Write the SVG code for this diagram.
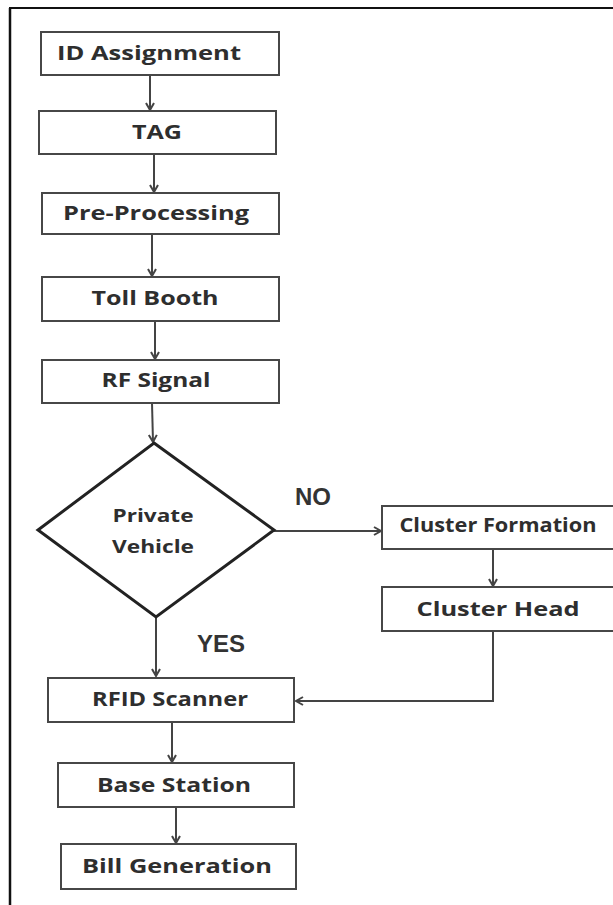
<svg xmlns="http://www.w3.org/2000/svg" width="613" height="905" viewBox="0 0 613 905">
<style>
.box{fill:#fff;stroke:#474747;stroke-width:2}
.dia{fill:#fff;stroke:#222;stroke-width:3}
.lbl{font-family:"Open Sans","Liberation Sans",sans-serif;font-weight:bold;font-size:19px;fill:#2e2e2e;text-anchor:middle}
.sm{font-size:18px}
.big{font-family:"Liberation Sans",Arial,sans-serif;font-weight:bold;font-size:24px;fill:#333}
.con{fill:none;stroke:#444;stroke-width:2}
</style>
<defs>
<marker id="arr" markerWidth="12" markerHeight="12" refX="10" refY="6" orient="auto" markerUnits="userSpaceOnUse">
<path d="M3,2 L10,6 L3,10" fill="none" stroke="#444" stroke-width="2"/>
</marker>
</defs>
<rect width="613" height="905" fill="#fff"/>
<g id="frame">
<line x1="9" y1="8" x2="613" y2="8" stroke="#111" stroke-width="2"/>
<line x1="10" y1="8" x2="10" y2="905" stroke="#111" stroke-width="2.5"/>
</g>
<g id="connectors">
<line class="con" x1="150" y1="75" x2="150" y2="110" marker-end="url(#arr)"/>
<line class="con" x1="154" y1="154" x2="154" y2="192" marker-end="url(#arr)"/>
<line class="con" x1="152" y1="234" x2="152" y2="276" marker-end="url(#arr)"/>
<line class="con" x1="155" y1="321" x2="155" y2="359" marker-end="url(#arr)"/>
<line class="con" x1="152" y1="403" x2="153" y2="442" marker-end="url(#arr)"/>
<line class="con" x1="156" y1="617" x2="156" y2="676" marker-end="url(#arr)"/>
<line class="con" x1="274" y1="531" x2="381" y2="531" marker-end="url(#arr)"/>
<line class="con" x1="493" y1="549" x2="493" y2="586" marker-end="url(#arr)"/>
<polyline class="con" points="493,631 493,701 296,701" marker-end="url(#arr)"/>
<line class="con" x1="172" y1="722" x2="172" y2="762" marker-end="url(#arr)"/>
<line class="con" x1="176" y1="807" x2="176" y2="843" marker-end="url(#arr)"/>
</g>
<g id="id-assignment">
<rect class="box" x="41" y="32" width="238" height="43"/>
<text class="lbl" x="149" y="60" textLength="184" lengthAdjust="spacingAndGlyphs">ID Assignment</text>
</g>
<g id="tag">
<rect class="box" x="39" y="111" width="237" height="43"/>
<text class="lbl" x="157" y="139" textLength="50" lengthAdjust="spacingAndGlyphs">TAG</text>
</g>
<g id="pre-processing">
<rect class="box" x="42" y="193" width="237" height="41"/>
<text class="lbl" x="156" y="220" textLength="186" lengthAdjust="spacingAndGlyphs">Pre-Processing</text>
</g>
<g id="toll-booth">
<rect class="box" x="42" y="277" width="237" height="44"/>
<text class="lbl" x="155" y="305" textLength="127" lengthAdjust="spacingAndGlyphs">Toll Booth</text>
</g>
<g id="rf-signal">
<rect class="box" x="42" y="360" width="237" height="43"/>
<text class="lbl" x="156" y="387" textLength="109" lengthAdjust="spacingAndGlyphs">RF Signal</text>
</g>
<g id="private-vehicle">
<polygon class="dia" points="154,443 274,530 156,617 38,530"/>
<text class="lbl sm" x="153" y="522" textLength="81" lengthAdjust="spacingAndGlyphs">Private</text>
<text class="lbl sm" x="153" y="553" textLength="82" lengthAdjust="spacingAndGlyphs">Vehicle</text>
</g>
<g id="label-no">
<text class="big" x="295" y="505">NO</text>
</g>
<g id="label-yes">
<text class="big" x="197" y="652">YES</text>
</g>
<g id="cluster-formation">
<rect class="box" x="382" y="506" width="240" height="43"/>
<text class="lbl" x="498" y="532" textLength="197" lengthAdjust="spacingAndGlyphs">Cluster Formation</text>
</g>
<g id="cluster-head">
<rect class="box" x="382" y="587" width="240" height="44"/>
<text class="lbl" x="498" y="616" textLength="163" lengthAdjust="spacingAndGlyphs">Cluster Head</text>
</g>
<g id="rfid-scanner">
<rect class="box" x="48" y="678" width="246" height="44"/>
<text class="lbl" x="170" y="706" textLength="156" lengthAdjust="spacingAndGlyphs">RFID Scanner</text>
</g>
<g id="base-station">
<rect class="box" x="58" y="763" width="236" height="44"/>
<text class="lbl" x="174" y="792" textLength="154" lengthAdjust="spacingAndGlyphs">Base Station</text>
</g>
<g id="bill-generation">
<rect class="box" x="61" y="844" width="235" height="45"/>
<text class="lbl" x="177" y="873" textLength="190" lengthAdjust="spacingAndGlyphs">Bill Generation</text>
</g>
</svg>
